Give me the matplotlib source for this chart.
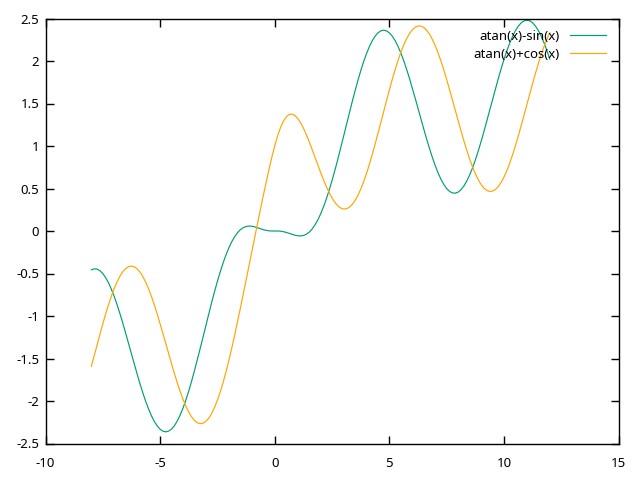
from matplotlib import pyplot as plt
import numpy as np

plt.rcParams['font.family'] = ['Noto Sans', 'DejaVu Sans']

# x sampled every 0.125 from -8 to 12
x = np.linspace(-8, 12, 161)

# atan(x)-sin(x), values (one row per unit of x)
atan_minus_sin = [
    -0.457, -0.445, -0.448, -0.467, -0.500, -0.549, -0.611, -0.686,
    -0.772, -0.869, -0.974, -1.086, -1.203, -1.324, -1.445, -1.567,
    -1.685, -1.799, -1.907, -2.007, -2.096, -2.175, -2.242, -2.294,
    -2.332, -2.355, -2.363, -2.354, -2.330, -2.290, -2.235, -2.165,
    -2.083, -1.988, -1.882, -1.766, -1.643, -1.514, -1.381, -1.245,
    -1.108, -0.973, -0.840, -0.713, -0.592, -0.479, -0.375, -0.281,
    -0.198, -0.127, -0.068, -0.021, 0.015, 0.039, 0.053, 0.058,
    0.056, 0.049, 0.038, 0.027, 0.016, 0.008, 0.002, 0.000,
    0.000, -0.000, -0.002, -0.008, -0.016, -0.027, -0.038, -0.049,
    -0.056, -0.058, -0.053, -0.039, -0.015, 0.021, 0.068, 0.127,
    0.198, 0.281, 0.375, 0.479, 0.592, 0.713, 0.840, 0.973,
    1.108, 1.245, 1.381, 1.514, 1.643, 1.766, 1.882, 1.988,
    2.083, 2.165, 2.235, 2.290, 2.330, 2.354, 2.363, 2.355,
    2.332, 2.294, 2.242, 2.175, 2.096, 2.007, 1.907, 1.799,
    1.685, 1.567, 1.445, 1.324, 1.203, 1.086, 0.974, 0.869,
    0.772, 0.686, 0.611, 0.549, 0.500, 0.467, 0.448, 0.445,
    0.457, 0.485, 0.528, 0.585, 0.655, 0.738, 0.832, 0.936,
    1.048, 1.166, 1.289, 1.415, 1.541, 1.666, 1.788, 1.905,
    2.015, 2.117, 2.208, 2.288, 2.356, 2.409, 2.448, 2.472,
    2.480, 2.473, 2.450, 2.412, 2.360, 2.293, 2.215, 2.124,
    2.024,
]

# atan(x)+cos(x)
atan_plus_cos = [
    -1.592, -1.466, -1.339, -1.213, -1.092, -0.975, -0.866, -0.765,
    -0.675, -0.597, -0.531, -0.479, -0.442, -0.419, -0.413, -0.422,
    -0.446, -0.484, -0.537, -0.604, -0.682, -0.772, -0.871, -0.977,
    -1.090, -1.207, -1.326, -1.445, -1.563, -1.677, -1.786, -1.887,
    -1.979, -2.061, -2.131, -2.187, -2.229, -2.256, -2.266, -2.261,
    -2.239, -2.201, -2.146, -2.076, -1.991, -1.893, -1.781, -1.657,
    -1.523, -1.380, -1.230, -1.073, -0.912, -0.748, -0.581, -0.413,
    -0.245, -0.078, 0.088, 0.252, 0.414, 0.572, 0.724, 0.868,
    1.000, 1.117, 1.214, 1.289, 1.341, 1.370, 1.375, 1.360,
    1.326, 1.275, 1.211, 1.137, 1.054, 0.965, 0.874, 0.781,
    0.691, 0.605, 0.524, 0.452, 0.389, 0.337, 0.298, 0.271,
    0.259, 0.261, 0.278, 0.310, 0.356, 0.416, 0.490, 0.575,
    0.672, 0.779, 0.894, 1.015, 1.141, 1.271, 1.401, 1.530,
    1.657, 1.779, 1.895, 2.002, 2.100, 2.186, 2.260, 2.320,
    2.366, 2.397, 2.412, 2.411, 2.395, 2.363, 2.317, 2.256,
    2.183, 2.098, 2.002, 1.897, 1.785, 1.667, 1.546, 1.424,
    1.301, 1.181, 1.064, 0.954, 0.852, 0.759, 0.676, 0.606,
    0.549, 0.506, 0.478, 0.466, 0.469, 0.487, 0.521, 0.570,
    0.632, 0.708, 0.795, 0.893, 1.000, 1.115, 1.235, 1.359,
    1.485, 1.610, 1.734, 1.854, 1.967, 2.074, 2.171, 2.257,
    2.332,
]

fig = plt.figure(figsize=(6.4, 4.8), dpi=100)
ax = fig.add_axes([45.5 / 640, 1 - 443.5 / 480, 573 / 640, 425 / 480])

ax.plot(x, atan_minus_sin, color='#009e73', lw=0.85, label='atan(x)-sin(x)',
        solid_joinstyle='round')
ax.plot(x, atan_plus_cos, color='#ffa500', lw=0.85, label='atan(x)+cos(x)',
        solid_joinstyle='round')

ax.set_xlim(-10, 15)
ax.set_ylim(-2.5, 2.5)
ax.set_xticks([-10, -5, 0, 5, 10, 15])
ax.set_xticklabels(['-10', '-5', '0', '5', '10', '15'])
ax.set_yticks([-2.5, -2, -1.5, -1, -0.5, 0, 0.5, 1, 1.5, 2, 2.5])
ax.set_yticklabels(['-2.5', '-2', '-1.5', '-1', '-0.5', '0', '0.5', '1', '1.5', '2', '2.5'])

ax.tick_params(direction='in', length=6, width=1, top=True, right=True, labelsize=9.5)
ax.tick_params(axis='x', pad=10)
ax.tick_params(axis='y', pad=4.5)
for s in ax.spines.values():
    s.set_linewidth(1)
    s.set_color('black')

ax.legend(loc='upper right', bbox_to_anchor=(1 - 13 / 573, 1 - 11 / 425),
          frameon=False, markerfirst=False, fontsize=9.5, borderaxespad=0,
          borderpad=0, handlelength=2.7, handletextpad=0.8, labelspacing=0.4)

plt.savefig('out.png')
